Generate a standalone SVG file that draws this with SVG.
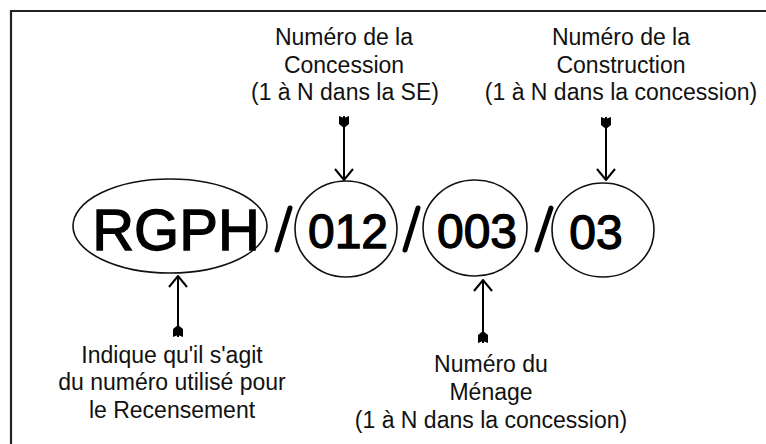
<svg xmlns="http://www.w3.org/2000/svg" width="766" height="444" viewBox="0 0 766 444">
<style>
.lbl{font-family:"Liberation Sans","DejaVu Sans",sans-serif;font-size:23px;fill:#111;text-anchor:middle}
.big{font-family:"Liberation Sans","DejaVu Sans",sans-serif;fill:#000;stroke:#000;stroke-width:1.3;text-anchor:middle}
.shape{fill:none;stroke:#111;stroke-width:1.6}
.slash{stroke:#000;stroke-width:5;stroke-linecap:round}
.conn{stroke:#000;stroke-width:2;fill:none;marker-end:url(#head);marker-start:url(#tail)}
</style>
<defs>
<marker id="head" viewBox="0 0 13 20" refX="12" refY="10" markerWidth="13" markerHeight="20" markerUnits="userSpaceOnUse" orient="auto">
<path d="M1,1 L12,10 L1,19" fill="none" stroke="#000" stroke-width="2"/>
</marker>
<marker id="tail" viewBox="0 -6 13 12" refX="0" refY="0" markerWidth="13" markerHeight="12" markerUnits="userSpaceOnUse" orient="auto">
<path d="M0,-5 L8,-5 L12,0 L8,5 L0,5 L2,0 Z" fill="#000"/>
</marker>
</defs>
<rect width="766" height="444" fill="#fff"/>
<path d="M11,444 L11,11 L766,11" fill="none" stroke="#222" stroke-width="2.2"/>

<g id="rgph">
<ellipse class="shape" cx="170" cy="226" rx="97" ry="47"/>
<text class="big" x="176" y="250" font-size="58">RGPH</text>
</g>
<g id="concession">
<ellipse class="shape" cx="346" cy="229" rx="51" ry="48"/>
<text class="big" x="348" y="248" font-size="48">012</text>
</g>
<g id="menage">
<ellipse class="shape" cx="475" cy="228" rx="52" ry="48"/>
<text class="big" x="477" y="248" font-size="48">003</text>
</g>
<g id="construction">
<ellipse class="shape" cx="603" cy="230" rx="51" ry="47"/>
<text class="big" x="596" y="249" font-size="48">03</text>
</g>
<g id="slashes">
<line class="slash" x1="277" y1="250" x2="290" y2="208"/>
<line class="slash" x1="405" y1="250" x2="418" y2="208"/>
<line class="slash" x1="537" y1="250" x2="551" y2="208"/>
</g>

<g id="label-concession">
<text class="lbl" x="344" y="45">Numéro de la</text>
<text class="lbl" x="344" y="73">Concession</text>
<text class="lbl" x="345" y="100">(1 à N dans la SE)</text>
</g>
<g id="label-construction">
<text class="lbl" x="621" y="45">Numéro de la</text>
<text class="lbl" x="621" y="73">Construction</text>
<text class="lbl" x="621" y="100">(1 à N dans la concession)</text>
</g>
<g id="label-rgph">
<text class="lbl" x="172" y="363">Indique qu'il s'agit</text>
<text class="lbl" x="172" y="390">du numéro utilisé pour</text>
<text class="lbl" x="172" y="418">le Recensement</text>
</g>
<g id="label-menage">
<text class="lbl" x="491" y="372">Numéro du</text>
<text class="lbl" x="491" y="400">Ménage</text>
<text class="lbl" x="491" y="428">(1 à N dans la concession)</text>
</g>

<g id="connectors">
<line class="conn" x1="344" y1="116" x2="344" y2="180"/>
<line class="conn" x1="606" y1="117" x2="606" y2="180"/>
<line class="conn" x1="178" y1="337" x2="178" y2="276"/>
<line class="conn" x1="483" y1="343" x2="483" y2="280"/>
</g>
</svg>
